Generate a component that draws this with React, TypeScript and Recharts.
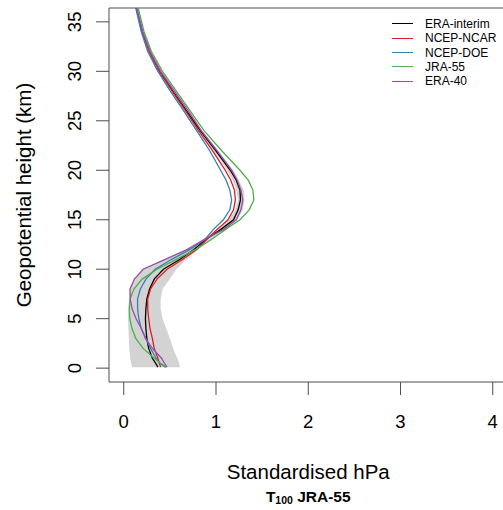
import React from 'react';
import { ComposedChart, Line, Area, XAxis, YAxis, ReferenceArea, Label } from 'recharts';

// geopotential height levels (km)
const heights = [0.1, 0.5, 1, 2, 3, 4, 5, 6, 7, 8, 9, 10, 11, 12, 13, 14, 15, 16, 17, 18, 19, 20, 22, 24, 26, 28, 30, 32, 34, 37];

const eraInterim = [0.37, 0.345, 0.31, 0.27, 0.25, 0.24, 0.235, 0.24, 0.25, 0.28, 0.33, 0.43, 0.61, 0.76, 0.89, 1.05, 1.19, 1.24, 1.265, 1.26, 1.22, 1.155, 0.995, 0.83, 0.68, 0.53, 0.39, 0.28, 0.2, 0.12];
const ncepNcar = [0.4, 0.385, 0.37, 0.33, 0.31, 0.285, 0.27, 0.26, 0.26, 0.29, 0.36, 0.47, 0.64, 0.79, 0.9, 1.01, 1.13, 1.19, 1.21, 1.2, 1.16, 1.1, 0.96, 0.81, 0.67, 0.525, 0.385, 0.275, 0.2, 0.12];
const ncepDoe = [0.45, 0.39, 0.35, 0.29, 0.24, 0.19, 0.163, 0.15, 0.15, 0.18, 0.24, 0.34, 0.52, 0.72, 0.88, 0.97, 1.08, 1.15, 1.17, 1.15, 1.11, 1.05, 0.93, 0.79, 0.65, 0.505, 0.37, 0.26, 0.19, 0.115];
const jra55 = [0.46, 0.4, 0.33, 0.21, 0.13, 0.09, 0.065, 0.06, 0.07, 0.11, 0.2, 0.36, 0.57, 0.78, 0.95, 1.1, 1.26, 1.36, 1.41, 1.4, 1.35, 1.26, 1.06, 0.87, 0.72, 0.57, 0.42, 0.3, 0.22, 0.14];
const era40 = [0.47, 0.44, 0.41, 0.31, 0.235, 0.19, 0.134, 0.09, 0.07, 0.068, 0.115, 0.21, 0.45, 0.69, 0.87, 1.08, 1.22, 1.27, 1.29, 1.27, 1.23, 1.17, 1.01, 0.84, 0.7, 0.55, 0.4, 0.285, 0.205, 0.125];

// grey envelope
const bandLow = [0.09, 0.08, 0.07, 0.06, 0.055, 0.05, 0.047, 0.05, 0.055, 0.065, 0.12, 0.2, 0.44, 0.68, 0.86, 1.0, 1.14, 1.21, 1.24, 1.22, 1.18, 1.12, 0.97, 0.81, 0.66, 0.51, 0.37, 0.26, 0.19, 0.11];
const bandHigh = [0.61, 0.6, 0.58, 0.535, 0.5, 0.46, 0.42, 0.4, 0.4, 0.42, 0.5, 0.57, 0.68, 0.81, 0.94, 1.08, 1.23, 1.29, 1.31, 1.3, 1.25, 1.19, 1.02, 0.85, 0.7, 0.55, 0.41, 0.29, 0.21, 0.13];

const xTicks = [0, 1, 2, 3, 4];
const yTicks = [0, 5, 10, 15, 20, 25, 30, 35];

const SERIES = [
  { key: 'eraInterim', name: 'ERA-interim', color: '#000000' },
  { key: 'ncepNcar', name: 'NCEP-NCAR', color: '#E41A1C' },
  { key: 'ncepDoe', name: 'NCEP-DOE', color: '#377EB8' },
  { key: 'jra55', name: 'JRA-55', color: '#4DAF4A' },
  { key: 'era40', name: 'ERA-40', color: '#984EA3' },
];

const rows = heights.map((h, i) => ({
  h,
  band: [bandLow[i], bandHigh[i]],
  eraInterim: eraInterim[i],
  ncepNcar: ncepNcar[i],
  ncepDoe: ncepDoe[i],
  jra55: jra55[i],
  era40: era40[i],
}));

const FONT = '"Liberation Sans", Arial, Helvetica, sans-serif';
const AXIS = '#4d4d4d';

const XTick = ({ x, y, payload }: any) => (
  <text x={x} y={y + 33.3} textAnchor="middle" fontSize={18.5} fontFamily={FONT} fill="#000">
    {payload.value}
  </text>
);

const YTick = ({ x, y, payload }: any) => {
  const bx = x - 14.5;
  return (
    <text x={bx} y={y} transform={`rotate(-90, ${bx}, ${y})`} textAnchor="middle" fontSize={18.5} fontFamily={FONT} fill="#000">
      {payload.value}
    </text>
  );
};

const XTitle = ({ viewBox }: any) => {
  const cx = viewBox.x + viewBox.width / 2;
  return (
    <g fontFamily={FONT} fill="#000">
      <text x={cx} y={viewBox.y + 97} textAnchor="middle" fontSize={20.5}>Standardised hPa</text>
      <text x={cx} y={viewBox.y + 119.7} textAnchor="middle" fontSize={15.5} fontWeight="bold">
        T<tspan fontSize={10.5} dy={2}>100</tspan><tspan dy={-2}> JRA-55</tspan>
      </text>
    </g>
  );
};

const YTitle = ({ viewBox }: any) => {
  const cy = viewBox.y + viewBox.height / 2;
  const bx = 30.7;
  return (
    <text x={bx} y={cy} transform={`rotate(-90, ${bx}, ${cy})`} textAnchor="middle" fontSize={20.5} fontFamily={FONT} fill="#000">
      Geopotential height (km)
    </text>
  );
};

const LegendBox = () => (
  <div style={{ position: 'absolute', top: 16.8, left: 392, fontFamily: FONT, fontSize: 12, color: '#000' }}>
    {SERIES.map((s) => (
      <div key={s.key} style={{ display: 'flex', alignItems: 'center', height: 14.3, whiteSpace: 'nowrap' }}>
        <span style={{ display: 'inline-block', width: 21, borderTop: `1.3px solid ${s.color}`, marginRight: 12 }} />
        <span>{s.name}</span>
      </div>
    ))}
  </div>
);

export default function App() {
  return (
    <div style={{ width: 503, height: 510, overflow: 'hidden', position: 'relative', background: '#fff' }}>
      <style>{'body{margin:0}'}</style>
      <ComposedChart
        layout="vertical"
        width={510}
        height={510}
        data={rows}
        margin={{ top: 8, right: 2.5, bottom: 0, left: 0 }}
      >
        <XAxis
          type="number"
          domain={[-0.16, 4.16]}
          ticks={xTicks}
          allowDataOverflow
          height={128}
          axisLine={false}
          tickLine={{ stroke: AXIS }}
          tickSize={13}
          tickMargin={0}
          tick={<XTick />}
          interval={0}
        >
          <Label content={<XTitle />} />
        </XAxis>
        <YAxis
          type="number"
          dataKey="h"
          domain={[-1.4, 36.4]}
          ticks={yTicks}
          allowDataOverflow
          reversed
          width={109}
          axisLine={false}
          tickLine={{ stroke: AXIS }}
          tickSize={13}
          tickMargin={0}
          tick={<YTick />}
          interval={0}
        >
          <Label content={<YTitle />} />
        </YAxis>
        <Area
          dataKey="band"
          type="linear"
          fill="#d3d3d3"
          fillOpacity={1}
          stroke="none"
          isAnimationActive={false}
        />
        {SERIES.map((s) => (
          <Line
            key={s.key}
            dataKey={s.key}
            name={s.name}
            type="linear"
            stroke={s.color}
            strokeWidth={1.3}
            dot={false}
            activeDot={false}
            isAnimationActive={false}
          />
        ))}
        <ReferenceArea
          x1={-0.16}
          x2={4.16}
          y1={-1.4}
          y2={36.4}
          fill="none"
          stroke={AXIS}
          strokeWidth={1}
          ifOverflow="visible"
        />
      </ComposedChart>
      <LegendBox />
    </div>
  );
}
